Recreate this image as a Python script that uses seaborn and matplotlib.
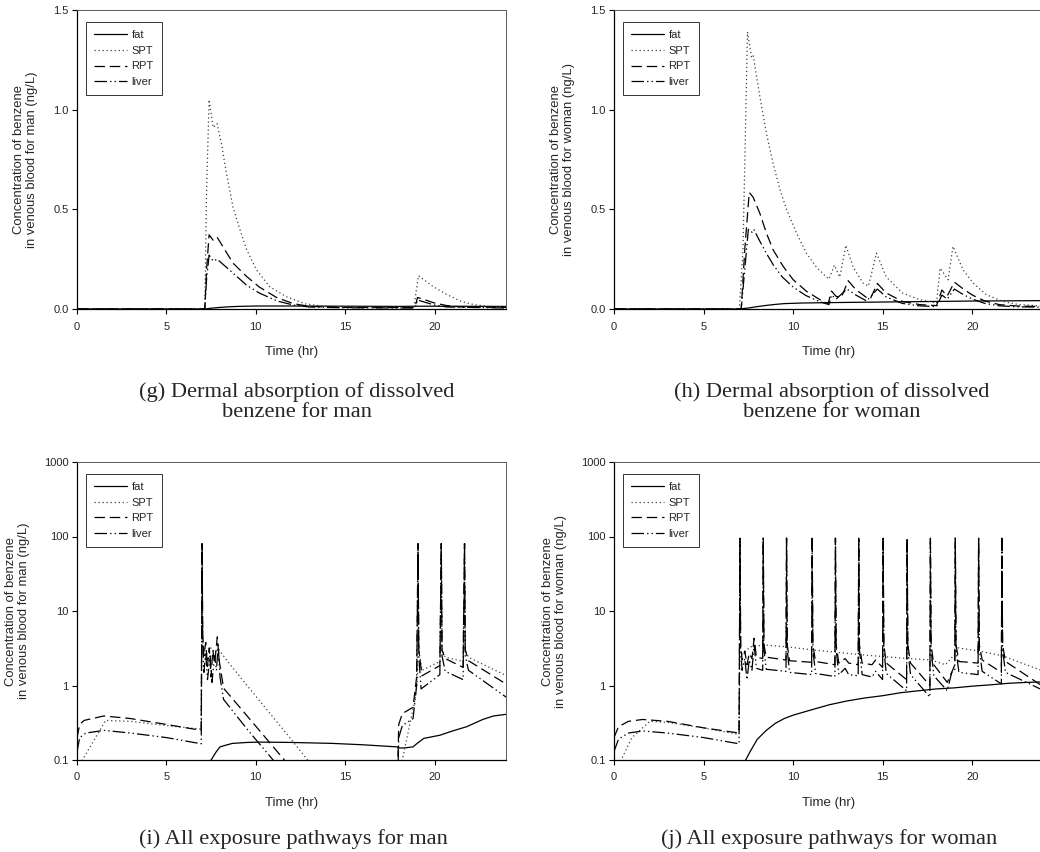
import matplotlib
matplotlib.use("Agg")
import matplotlib.pyplot as plt
from matplotlib.lines import Line2D
import pandas as pd
import seaborn as sns

# ---------------------------------------------------------------------------
# Data: concentration of benzene in venous blood (ng/L) vs time (hr)
# ---------------------------------------------------------------------------
TISSUES = ["fat", "SPT", "RPT", "liver"]

# (g) dermal absorption of dissolved benzene, man
G_FAT_T = [0, 7.2, 7.5, 8.0, 8.5, 9.0, 10, 12, 15, 18, 19, 20, 24]
G_FAT = [0, 0, 0.004, 0.008, 0.011, 0.013, 0.015, 0.015, 0.014, 0.013, 0.014, 0.014, 0.013]
G_SPT_T = [0, 7.15, 7.25, 7.39, 7.62, 7.84, 8.08, 8.36, 8.73, 9.11, 9.48, 10.04, 10.78,
           11.7, 12.8, 14, 18.85, 19.1, 19.9, 20.7, 21.5, 22.2, 23, 24]
G_SPT = [0, 0, 0.6, 1.05, 0.91, 0.93, 0.83, 0.68, 0.51, 0.40, 0.30, 0.196, 0.112,
         0.062, 0.025, 0.012, 0.01, 0.167, 0.114, 0.072, 0.038, 0.022, 0.013, 0.01]
G_RPT_T = [0, 7.15, 7.25, 7.39, 7.62, 7.84, 8.73, 9.48, 10.2, 11.16, 12.1, 13.0, 15,
           18.9, 19.05, 19.5, 20.0, 20.7, 21.5, 24]
G_RPT = [0, 0, 0.2, 0.372, 0.345, 0.36, 0.23, 0.164, 0.11, 0.058, 0.027, 0.013, 0.008,
         0.007, 0.058, 0.045, 0.03, 0.017, 0.01, 0.008]
G_LIV_T = [0, 7.15, 7.25, 7.39, 7.62, 7.84, 8.73, 9.48, 10.2, 11.2, 12.1, 13.0, 15,
           18.9, 19.05, 19.5, 20.0, 20.7, 24]
G_LIV = [0, 0, 0.15, 0.27, 0.24, 0.25, 0.18, 0.12, 0.08, 0.04, 0.02, 0.01, 0.006,
         0.005, 0.045, 0.033, 0.02, 0.01, 0.005]

# (h) dermal absorption of dissolved benzene, woman
H_FAT_T = [0, 7.0, 7.5, 8.0, 8.5, 9.0, 9.5, 10.5, 12, 14, 16, 18, 20, 22, 24]
H_FAT = [0, 0, 0.005, 0.012, 0.018, 0.023, 0.027, 0.03, 0.032, 0.034, 0.036, 0.038,
         0.04, 0.041, 0.042]
H_SPT_T = [0, 7.0, 7.2, 7.45, 7.68, 7.77, 8.14, 8.51, 8.88, 9.26, 9.63, 10.19, 10.74,
           11.3, 11.86, 12.0, 12.3, 12.6, 12.94, 13.35, 13.9, 14.2, 14.65, 15.2, 16.1,
           17.06, 18.0, 18.2, 18.65, 18.92, 19.48, 20.04, 20.78, 21.7, 22.6, 24]
H_SPT = [0, 0, 0.3, 1.39, 1.26, 1.27, 1.066, 0.88, 0.73, 0.60, 0.50, 0.38, 0.28,
         0.21, 0.16, 0.15, 0.22, 0.16, 0.32, 0.21, 0.13, 0.115, 0.28, 0.16, 0.08,
         0.047, 0.03, 0.205, 0.147, 0.314, 0.197, 0.13, 0.072, 0.038, 0.022, 0.015]
H_RPT_T = [0, 7.1, 7.3, 7.55, 7.77, 8.14, 8.51, 8.88, 9.44, 10.0, 10.74, 11.49, 11.95,
           12.14, 12.4, 12.7, 13.07, 13.5, 14.09, 14.3, 14.7, 15.2, 16.1, 17.06, 18.0,
           18.3, 18.6, 19.0, 19.5, 20.0, 20.7, 21.5, 22.5, 24]
H_RPT = [0, 0, 0.3, 0.585, 0.56, 0.48, 0.38, 0.297, 0.214, 0.147, 0.089, 0.047, 0.027,
         0.09, 0.063, 0.06, 0.142, 0.097, 0.058, 0.05, 0.128, 0.08, 0.038, 0.022, 0.017,
         0.095, 0.065, 0.135, 0.1, 0.07, 0.04, 0.022, 0.015, 0.012]
H_LIV_T = [0, 7.1, 7.3, 7.5, 7.7, 7.8, 8.14, 8.5, 8.9, 9.4, 10.0, 10.7, 11.5, 12.0,
           12.14, 12.4, 13.0, 13.5, 14.1, 14.7, 15.2, 16.1, 17.0, 18.0, 18.3, 18.6,
           19.0, 19.5, 20.0, 20.7, 21.5, 22.5, 24]
H_LIV = [0, 0, 0.2, 0.40, 0.385, 0.40, 0.34, 0.28, 0.22, 0.16, 0.11, 0.068, 0.036, 0.022,
         0.07, 0.05, 0.1, 0.07, 0.04, 0.1, 0.06, 0.028, 0.016, 0.012, 0.07, 0.05,
         0.1, 0.072, 0.05, 0.028, 0.016, 0.011, 0.009]

# (i) all exposure pathways, man
I_FAT_T = [0, 7.0, 7.5, 7.8, 8.0, 8.4, 8.7, 9.5, 10.2, 12, 14.3, 16, 17.9, 18.0, 18.3,
           18.8, 19.0, 19.4, 20.3, 21.0, 21.8, 22.7, 23.3, 24]
I_FAT = [0.03, 0.06, 0.1, 0.13, 0.15, 0.16, 0.167, 0.172, 0.174, 0.172, 0.167, 0.16,
         0.15, 0.145, 0.145, 0.15, 0.165, 0.195, 0.215, 0.245, 0.28, 0.35, 0.39, 0.41]
I_SPT_T = [0, 0.3, 0.8, 1.6, 3, 5, 6.95, 7.0, 7.03, 7.1, 7.3, 7.5, 7.7, 7.9, 8.5, 10,
           11.9, 12.9, 13.5, 15, 18.0, 18.2, 18.9, 19.05, 19.08, 19.12, 19.3, 20.3,
           20.38, 20.42, 20.6, 21.6, 21.68, 21.72, 21.9, 24]
I_SPT = [0.08, 0.1, 0.16, 0.34, 0.33, 0.29, 0.26, 80, 4, 3.0, 2.6, 3.2, 2.8, 3.1, 2.0,
         0.72, 0.2, 0.1, 0.07, 0.05, 0.05, 0.1, 0.63, 1.2, 80, 3.0, 1.6, 2.1, 80, 3.0,
         2.4, 2.1, 80, 3.0, 2.4, 1.36]
I_RPT_T = [0, 0.15, 0.4, 1.5, 3, 5, 6.95, 7.0, 7.03, 7.1, 7.2, 7.3, 7.4, 7.5, 7.6, 7.7,
           7.85, 7.95, 8.2, 10.2, 11.6, 12.5, 17.9, 18.0, 18.2, 18.8, 19.0, 19.08,
           19.12, 19.3, 20.3, 20.38, 20.42, 20.6, 21.6, 21.68, 21.72, 21.9, 24]
I_RPT = [0.2, 0.3, 0.34, 0.39, 0.36, 0.3, 0.25, 80, 5, 2.5, 3.8, 1.8, 3.2, 1.3, 3.0,
         2.0, 4.5, 2.2, 0.92, 0.25, 0.1, 0.055, 0.03, 0.3, 0.42, 0.51, 1.3, 80,
         3, 1.35, 1.85, 80, 3, 2.3, 1.75, 80, 3, 2.15, 1.05]
I_LIV_T = [0, 0.15, 0.5, 1.5, 3, 5, 6.95, 7.0, 7.03, 7.1, 7.2, 7.3, 7.45, 7.55, 7.7,
           7.8, 7.9, 8.0, 8.2, 9.57, 10.97, 12, 17.9, 18.0, 18.2, 18.8, 19.0, 19.08,
           19.12, 19.25, 20.3, 20.38, 20.42, 20.6, 21.6, 21.68, 21.72, 21.9, 24]
I_LIV = [0.13, 0.2, 0.23, 0.25, 0.23, 0.2, 0.165, 80, 4, 1.5, 2.8, 1.2, 2.5, 1.1, 2.5,
         1.6, 3.5, 1.3, 0.65, 0.25, 0.1, 0.05, 0.02, 0.2, 0.29, 0.36, 1.0, 80, 2.5,
         0.9, 1.4, 80, 2.5, 1.55, 1.2, 80, 2.5, 1.6, 0.7]

# (j) all exposure pathways, woman
J_FAT_T = [0, 7.0, 7.3, 7.6, 8.0, 8.5, 9.0, 9.5, 10, 11, 12, 13, 14, 15, 16, 17, 18,
           19, 20, 21, 22, 23, 24]
J_FAT = [0.02, 0.06, 0.095, 0.13, 0.19, 0.25, 0.31, 0.36, 0.4, 0.47, 0.55, 0.62, 0.68,
         0.73, 0.8, 0.85, 0.9, 0.93, 0.98, 1.02, 1.07, 1.1, 1.12]
J_SPT_T = [0, 0.4, 1.0, 2.0, 3, 5, 6.98, 7.03, 7.3, 7.6, 8.0, 8.4, 9.7, 11.1, 12.4,
           13.7, 15.0, 16.4, 17.7, 18.5, 19.0, 19.2, 20.4, 21.7, 23, 24]
J_SPT = [0.07, 0.1, 0.2, 0.33, 0.32, 0.27, 0.22, 2.5, 2.8, 3.3, 3.4, 3.5, 3.3, 3.0,
         2.8, 2.6, 2.45, 2.3, 2.2, 1.9, 2.6, 3.2, 2.9, 2.5, 1.9, 1.55]
J_RPT_T = [0, 0.25, 0.8, 1.6, 3, 5, 6.98,
           7.03, 7.07, 7.15, 7.3, 7.42, 7.55, 7.7, 7.82, 7.95, 8.3,
           8.33, 8.37, 8.5, 9.6,
           9.63, 9.67, 9.8, 11.03,
           11.06, 11.1, 11.25, 12.33,
           12.36, 12.4, 12.55, 12.9, 13.1, 13.63,
           13.66, 13.7, 13.85, 14.4, 14.6, 14.99,
           15.02, 15.06, 15.2, 16.33,
           16.36, 16.4, 16.55, 17.63,
           17.66, 17.7, 17.85, 18.6, 18.9, 19.02,
           19.05, 19.09, 19.25, 20.32,
           20.35, 20.39, 20.55, 21.62,
           21.65, 21.69, 21.85, 24]
J_RPT = [0.2, 0.28, 0.33, 0.35, 0.33, 0.27, 0.23,
         95, 3.5, 2.2, 2.9, 1.9, 2.7, 2.3, 4.3, 2.4, 2.3,
         95, 3.5, 2.4, 2.2,
         95, 3.5, 2.15, 2.05,
         95, 3.5, 2.1, 1.9,
         95, 3.5, 2.0, 2.3, 2.0, 1.9,
         95, 3.5, 2.0, 1.9, 2.2, 1.75,
         95, 3.5, 2.0, 1.2,
         95, 3.5, 2.0, 1.0,
         95, 3.5, 1.9, 1.1, 1.6, 1.9,
         95, 3.5, 2.1, 2.0,
         95, 3.5, 2.2, 1.5,
         95, 3.5, 2.1, 0.95]
J_LIV_T = [0, 0.25, 0.8, 1.6, 3, 5, 6.98,
           7.03, 7.07, 7.15, 7.3, 7.42, 7.55, 7.7, 7.82, 7.95, 8.3,
           8.33, 8.37, 8.5, 9.6,
           9.63, 9.67, 9.8, 11.03,
           11.06, 11.1, 11.25, 12.33,
           12.36, 12.4, 12.55, 12.9, 13.1, 13.63,
           13.66, 13.7, 13.85, 14.4, 14.6, 14.99,
           15.02, 15.06, 15.2, 16.33,
           16.36, 16.4, 16.55, 17.63,
           17.66, 17.7, 17.85, 18.6, 18.85, 19.02,
           19.05, 19.09, 19.25, 20.32,
           20.35, 20.39, 20.55, 21.62,
           21.65, 21.69, 21.85, 24]
J_LIV = [0.13, 0.19, 0.23, 0.245, 0.23, 0.2, 0.165,
         95, 3.0, 1.6, 2.3, 1.2, 2.2, 1.6, 3.5, 1.7, 1.6,
         95, 3.0, 1.65, 1.55,
         95, 3.0, 1.5, 1.4,
         95, 3.0, 1.45, 1.32,
         95, 3.0, 1.4, 1.7, 1.4, 1.35,
         95, 3.0, 1.4, 1.3, 1.55, 1.2,
         95, 3.0, 1.45, 0.85,
         95, 3.0, 1.4, 0.7,
         95, 3.0, 1.35, 0.85, 1.5, 1.6,
         95, 3.0, 1.5, 1.4,
         95, 3.0, 1.55, 1.05,
         95, 3.0, 1.5, 0.85]

PANELS = [
    dict(key="g", who="man", log=False,
         series=[(G_FAT_T, G_FAT), (G_SPT_T, G_SPT), (G_RPT_T, G_RPT), (G_LIV_T, G_LIV)],
         caption="(g) Dermal absorption of dissolved\nbenzene for man"),
    dict(key="h", who="woman", log=False,
         series=[(H_FAT_T, H_FAT), (H_SPT_T, H_SPT), (H_RPT_T, H_RPT), (H_LIV_T, H_LIV)],
         caption="(h) Dermal absorption of dissolved\nbenzene for woman"),
    dict(key="i", who="man", log=True,
         series=[(I_FAT_T, I_FAT), (I_SPT_T, I_SPT), (I_RPT_T, I_RPT), (I_LIV_T, I_LIV)],
         caption="(i) All exposure pathways for man"),
    dict(key="j", who="woman", log=True,
         series=[(J_FAT_T, J_FAT), (J_SPT_T, J_SPT), (J_RPT_T, J_RPT), (J_LIV_T, J_LIV)],
         caption="(j) All exposure pathways for woman"),
]

LIN_TICKS = [0.0, 0.5, 1.0, 1.5]
LIN_LABELS = ["0.0", "0.5", "1.0", "1.5"]
LOG_TICKS = [0.1, 1, 10, 100, 1000]
LOG_LABELS = ["0.1", "1", "10", "100", "1000"]
X_TICKS = [0, 5, 10, 15, 20]

# ---------------------------------------------------------------------------
# Styling
# ---------------------------------------------------------------------------
sns.set_theme(style="white")
plt.rcParams["font.family"] = ["Liberation Sans", "DejaVu Sans"]
plt.rcParams["lines.scale_dashes"] = False

PALETTE = {"fat": "black", "SPT": "0.25", "RPT": "black", "liver": "black"}
DASHES = {"fat": "", "SPT": (0.9, 2.0), "RPT": (7.5, 3.5),
          "liver": (9, 2.2, 1.0, 2.2, 1.0, 2.2)}
LW = 0.9

W, H = 1040, 852
fig = plt.figure(figsize=(W / 100, H / 100), dpi=100)

# axes boxes in pixel coordinates: left, top, right, bottom
BOXES = {
    "g": (77, 10, 506, 309),
    "h": (614, 10, 1044, 309),
    "i": (77, 462, 506, 760),
    "j": (614, 462, 1044, 760),
}
CAPTION_X = {"g": 297, "h": 832, "i": 293, "j": 829}
CAPTION_Y = {"g": 402, "h": 402, "i": 839, "j": 839}

for p in PANELS:
    l, t, r, b = BOXES[p["key"]]
    ax = fig.add_axes([l / W, 1 - b / H, (r - l) / W, (b - t) / H])

    frames = []
    for name, (tt, vv) in zip(TISSUES, p["series"]):
        frames.append(pd.DataFrame({"time": tt, "conc": vv, "tissue": name}))
    df = pd.concat(frames, ignore_index=True)

    sns.lineplot(data=df, x="time", y="conc", hue="tissue", style="tissue",
                 hue_order=TISSUES, style_order=TISSUES, palette=PALETTE,
                 dashes=DASHES, estimator=None, sort=False, linewidth=LW,
                 legend=False, ax=ax)

    ax.set_xlim(0, 24)
    ax.set_xticks(X_TICKS)
    ax.set_xticklabels([str(v) for v in X_TICKS])
    if p["log"]:
        ax.set_yscale("log")
        ax.set_ylim(0.1, 1000)
        ax.set_yticks(LOG_TICKS)
        ax.set_yticklabels(LOG_LABELS)
        ax.minorticks_off()
        ylab_x = -0.11
    else:
        ax.set_ylim(0, 1.5)
        ax.set_yticks(LIN_TICKS)
        ax.set_yticklabels(LIN_LABELS)
        ylab_x = -0.09

    ax.tick_params(axis="both", which="major", direction="out", length=3.5,
                   width=0.8, color="black", labelsize=8, bottom=True, left=True,
                   top=False, right=False, pad=2.5)
    ax.tick_params(axis="x", pad=5.5)

    for side in ("left", "bottom"):
        ax.spines[side].set_color("black")
        ax.spines[side].set_linewidth(0.9)
    for side in ("top", "right"):
        ax.spines[side].set_color("0.35")
        ax.spines[side].set_linewidth(0.7)

    ax.set_xlabel("Time (hr)", fontsize=9.5)
    ax.xaxis.set_label_coords(0.5, -0.124)
    ax.set_ylabel("Concentration of benzene\nin venous blood for %s (ng/L)" % p["who"],
                  fontsize=9.4, linespacing=1.1)
    ax.yaxis.set_label_coords(ylab_x, 0.5)

    handles = [Line2D([], [], color=PALETTE[n], linewidth=LW,
                      linestyle="-" if DASHES[n] == "" else (0, DASHES[n]))
               for n in TISSUES]
    leg = ax.legend(handles, TISSUES, loc="upper left", bbox_to_anchor=(0.021, 0.96),
                    fontsize=8, frameon=True, fancybox=False, handlelength=2.9,
                    handletextpad=0.45, labelspacing=0.5, borderpad=0.75,
                    borderaxespad=0.0)
    leg.get_frame().set_edgecolor("black")
    leg.get_frame().set_linewidth(0.7)

    fig.text(CAPTION_X[p["key"]] / W, 1 - CAPTION_Y[p["key"]] / H, p["caption"],
             ha="center", va="center", fontsize=16.2, linespacing=1.08,
             family=["Liberation Serif", "DejaVu Serif"])

fig.savefig("out.png", dpi=100, facecolor="white")
